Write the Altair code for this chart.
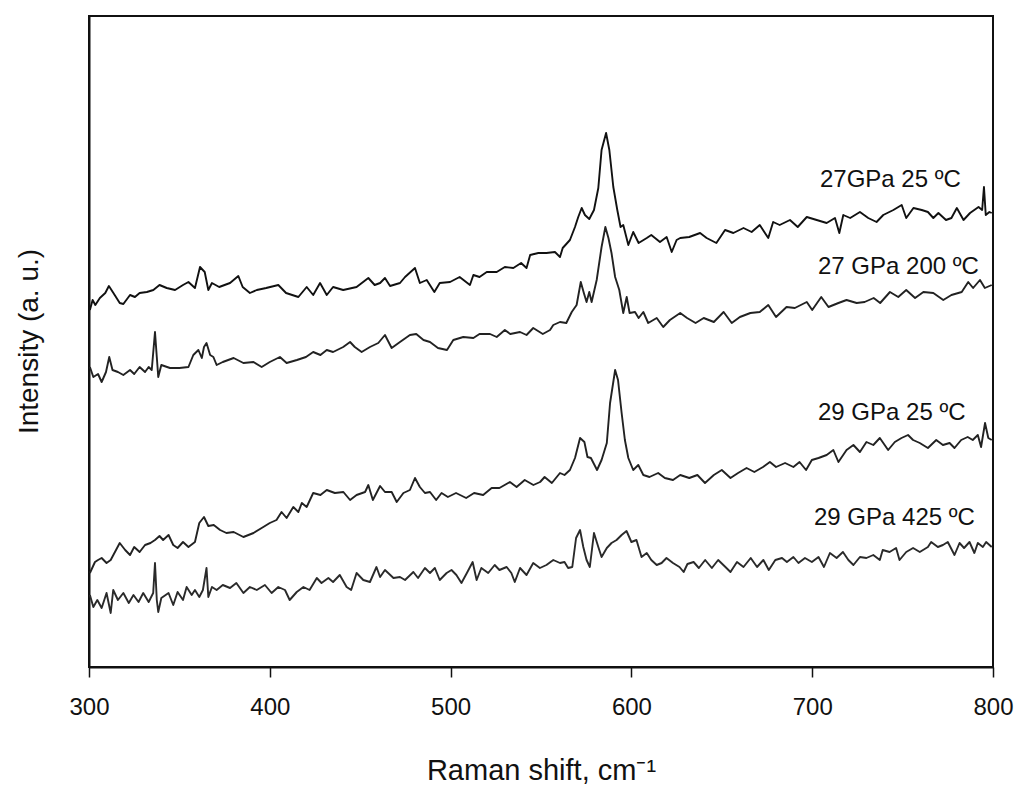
import altair as alt
import pandas as pd

labels = ["27GPa 25 ºC", "27 GPa 200 ºC", "29 GPa 25 ºC", "29 GPa 425 ºC"]

x_a = [300.5, 302, 303.5, 306, 309, 311, 313.5, 317, 319, 322.7, 325.4, 328, 332, 335.6, 339, 343, 347.6, 352, 355, 358.6,
       361.4, 364, 366, 368, 372, 378, 382.6, 385, 389, 392.8, 398, 404.7, 409, 415.8, 420.4, 424, 427.8, 431.5, 435, 440.6,
       448, 454.5, 458, 461, 463.7, 466.5, 472, 474.8, 480.3, 483, 486.8, 491, 494, 499.7, 505, 510.7, 512.6, 516, 520, 525.5,
       530, 534.7, 539, 542, 544, 548.5, 553, 557.7, 560.5, 562, 566, 568.8, 570.6, 572.5, 574.3, 576.7, 579.3, 581.7, 583.5, 586,
       587.8, 590, 592.2, 594, 595.5, 598.3, 601, 604, 608.5, 611, 615.8, 619.5, 622.3, 625, 627, 632, 638, 641.6, 647, 651.8,
       656.4, 662, 666.5, 671, 675.7, 678.4, 682, 687.7, 692, 697, 702.5, 708, 712.6, 715, 717.2, 721, 726.4, 731, 735.6, 739.3,
       744.9, 749.5, 752, 756, 760.6, 764, 767, 769.8, 774, 777, 780, 783.7, 787.3, 792, 794, 795, 796, 798, 799.3]
y_a = [357, 367, 362, 369, 374, 381, 374, 364, 363, 372, 370, 374, 375, 377, 382, 379, 377, 382, 385, 379,
       400, 395, 377, 384, 380, 384, 391, 380, 374, 377, 379, 382, 374, 370, 380, 372, 384, 372, 380, 377,
       380, 389, 382, 384, 389, 381, 384, 390, 399, 384, 387, 375, 384, 385, 390, 382, 392, 390, 395, 395,
       400, 399, 404, 399, 412, 414, 414, 415, 410, 419, 427, 440, 450, 459, 452, 448, 457, 479, 517, 534,
       517, 480, 457, 440, 442, 422, 435, 424, 429, 432, 425, 430, 415, 427, 429, 430, 434, 429, 424, 437,
       434, 439, 435, 442, 429, 445, 442, 447, 440, 450, 447, 444, 449, 434, 452, 449, 455, 449, 445, 452,
       457, 462, 449, 459, 457, 455, 449, 454, 447, 449, 459, 447, 454, 460, 457, 480, 452, 455, 454]

x_b = [300.5, 302.4, 305, 307, 309.4, 311.2, 313, 316, 319, 322.7, 325, 328, 331, 333, 334.7, 336.5, 337.5, 338.3, 340, 344.8,
       350, 355, 357.7, 360.5, 362.4, 363.6, 365, 367, 368.8, 370.6, 374, 380, 385.4, 391, 395.5, 400, 405.6, 409.3, 415, 420,
       424, 428, 431.5, 435, 440.6, 444.4, 447, 450.8, 455.4, 460, 463.7, 467.4, 472, 477.5, 481, 485, 488.6, 493, 498, 501.5,
       507, 512.6, 516, 521.8, 525.5, 530, 533, 538.4, 542, 545.7, 551, 555, 556.8, 560.5, 564, 567, 569.7, 572, 573.7, 575.2,
       576.7, 578, 580.8, 583.5, 585.6, 587.3, 589, 591, 593.3, 595.5, 597.4, 599, 602, 604, 606.6, 609.3, 614, 617.6, 621.3, 627,
       630.8, 635.5, 640, 645.6, 651, 655.5, 660, 665.8, 671, 675.7, 680, 685.8, 690.4, 697, 700, 705, 709, 714.5, 719, 724.6,
       729, 734, 737.6, 743, 747.6, 752, 756.9, 761.5, 767, 772.5, 777, 782.7, 786.3, 789, 792.8, 795.5, 799.3]
y_b = [300, 290, 293, 285, 295, 310, 297, 295, 292, 297, 293, 300, 295, 300, 297, 335, 310, 290, 302, 299,
       299, 300, 312, 317, 309, 320, 324, 312, 310, 302, 305, 309, 304, 305, 300, 305, 310, 304, 307, 310,
       315, 312, 317, 315, 320, 325, 320, 315, 320, 324, 332, 319, 325, 332, 333, 327, 325, 319, 317, 327,
       330, 329, 333, 333, 330, 337, 333, 335, 332, 339, 333, 337, 342, 345, 344, 355, 362, 385, 374, 365,
       375, 365, 387, 420, 440, 429, 414, 390, 377, 354, 370, 354, 355, 349, 355, 344, 349, 340, 347, 354,
       349, 344, 349, 345, 355, 344, 350, 354, 355, 362, 350, 360, 359, 365, 357, 370, 360, 364, 367, 364,
       365, 369, 364, 375, 370, 377, 369, 375, 374, 367, 372, 375, 385, 379, 387, 379, 382]

x_c = [300.5, 303.3, 305, 307, 309.7, 312, 317, 320, 322.7, 325, 328, 331, 334, 336.5, 339, 341, 344, 346.6, 349, 352,
       355, 358.6, 361, 363.6, 366, 369, 372.5, 376, 380, 385.4, 391, 395.5, 400, 403.7, 406.5, 409.3, 413, 415.8, 417.7, 420.4,
       424, 428, 431.5, 436, 440.7, 444.4, 448, 452.7, 454.5, 457, 461, 463.7, 467.4, 470.2, 473.9, 477.5, 480.3, 483, 485.8, 488.6,
       492, 495, 498.5, 503, 508.6, 513, 518, 522.7, 527, 532.8, 536.5, 541, 545.8, 549.5, 552, 556, 560.5, 563, 566, 568.8,
       571.6, 574, 575.7, 577.6, 581, 583.5, 586.4, 588.2, 591, 592.6, 594.6, 596.4, 598.3, 601, 603.8, 606.6, 610, 614.8, 618.5, 623,
       627, 632, 636.5, 640.7, 645.6, 650, 654.8, 659, 663.7, 668, 672.8, 676.6, 680, 685, 689.6, 693, 696.6, 699.8, 703.5, 708,
       711.7, 714.5, 719, 722.8, 726.4, 730, 733.8, 737.4, 742, 745.7, 749.4, 753, 755.8, 759.5, 764, 768.6, 772.3, 776, 778.7, 782.4,
       786, 788.8, 791.6, 793.4, 795.6, 797.4, 799.3]
y_c = [94, 105, 107, 109, 104, 107, 124, 117, 112, 120, 115, 122, 124, 127, 131, 127, 132, 122, 119, 125,
       120, 125, 144, 150, 141, 142, 137, 134, 135, 130, 134, 139, 144, 147, 155, 149, 160, 155, 164, 160,
       174, 172, 177, 174, 175, 167, 172, 175, 182, 167, 181, 175, 175, 165, 174, 177, 189, 180, 174, 175,
       167, 174, 170, 174, 169, 174, 172, 179, 179, 185, 180, 187, 182, 185, 190, 184, 194, 192, 197, 209,
       229, 225, 210, 209, 197, 207, 224, 264, 297, 287, 254, 227, 209, 197, 202, 192, 190, 194, 189, 187,
       192, 189, 192, 184, 192, 197, 189, 194, 199, 195, 200, 205, 200, 204, 200, 205, 197, 207, 209, 212,
       217, 205, 217, 222, 215, 225, 222, 229, 217, 225, 229, 232, 227, 224, 219, 227, 222, 224, 219, 227,
       230, 227, 232, 220, 244, 229, 227]

x_d = [300.5, 302.4, 304.6, 307, 309.7, 312, 313.4, 316, 319, 322, 324.6, 327.4, 330, 333, 335.5, 336.5, 337.5, 338.3, 340, 344,
       346.6, 349, 352, 354, 356.8, 358.6, 361, 363, 365, 366, 368, 370.6, 374, 378, 381.5, 385.4, 389, 392.8, 397.3, 401,
       404.7, 408.4, 411, 414.9, 418.6, 422, 426, 428.6, 432.4, 435, 438.7, 442.5, 445, 448, 451.7, 455.4, 459, 461, 463.7, 468.4,
       472, 474.8, 479.4, 482, 485.8, 488.6, 491.3, 494, 497.8, 500.5, 503.2, 506, 509, 512.2, 514.4, 517, 520.8, 524.4, 527, 531,
       533.6, 535.5, 538.4, 542, 545.7, 549.4, 553, 556.8, 560.5, 563, 565, 567.3, 569.4, 571.6, 573.4, 575.2, 577, 579.3, 581.7, 583.5,
       586.4, 589, 591.8, 594.6, 597.3, 600, 602.8, 605.6, 608.5, 611, 614, 616.7, 619.4, 623, 626.6, 628.9, 631, 634.4, 637.3, 640.8,
       644.5, 648, 652, 654.8, 658.4, 662, 666, 669.5, 673, 676, 679.6, 683.3, 686, 689.6, 692.4, 696, 699.8, 703.5, 706.5, 709.8,
       713.5, 717, 720, 722.8, 726.4, 730, 733.8, 737.4, 739, 742.8, 746.4, 748.3, 752, 755.8, 759.5, 764, 765.8, 769.5, 772.3, 775,
       778.7, 781.5, 784, 787, 789.7, 791.6, 794.4, 796.2, 799.3]
y_d = [72, 60, 67, 59, 74, 54, 77, 67, 74, 64, 72, 65, 74, 65, 74, 104, 67, 55, 69, 74,
       62, 75, 67, 80, 72, 77, 70, 77, 99, 70, 80, 77, 82, 79, 84, 74, 80, 77, 82, 74,
       80, 77, 67, 75, 80, 77, 89, 84, 89, 85, 92, 80, 77, 94, 87, 85, 100, 90, 97, 89,
       90, 87, 95, 89, 99, 94, 99, 87, 94, 97, 92, 84, 94, 105, 87, 99, 94, 102, 97, 100,
       94, 85, 99, 92, 104, 99, 102, 107, 104, 105, 99, 100, 129, 137, 120, 107, 100, 134, 120, 110,
       119, 124, 127, 132, 136, 125, 127, 110, 114, 107, 102, 104, 109, 104, 100, 95, 103, 105, 99, 107,
       99, 107, 100, 95, 105, 100, 109, 100, 107, 97, 107, 109, 105, 110, 104, 109, 105, 110, 100, 114,
       109, 115, 107, 102, 110, 109, 112, 107, 117, 115, 119, 107, 115, 119, 115, 120, 125, 120, 122, 125,
       112, 124, 119, 125, 114, 124, 120, 125, 120]

label_x = [704.3, 703.2, 703.2, 701.0]
label_y = [480, 393, 247, 142]
line_colors = ["#111111", "#222222", "#222222", "#2a2a2a"]

rows = []
for name, xs, ys in zip(labels, [x_a, x_b, x_c, x_d], [y_a, y_b, y_c, y_d]):
    for i, (xv, yv) in enumerate(zip(xs, ys)):
        rows.append({"series": name, "shift": xv, "intensity": yv, "idx": i})
df = pd.DataFrame(rows)

lab_df = pd.DataFrame({"label": labels, "lx": label_x, "ly": label_y})

FONT = "Liberation Sans"

x_enc = alt.X(
    "shift:Q",
    scale=alt.Scale(domain=[300, 800], nice=False, zero=False),
    axis=alt.Axis(
        values=[300, 400, 500, 600, 700, 800],
        title="Raman shift, cm⁻¹",
        grid=False,
        tickSize=10,
        tickWidth=1.5,
        tickColor="#111111",
        domainColor="#111111",
        domainWidth=2,
        labelFont=FONT,
        labelFontSize=24,
        labelColor="#111111",
        labelPadding=18,
        labelFlush=False,
        labelOverlap=False,
        labelBound=False,
        titleFont=FONT,
        titleFontSize=29,
        titleFontWeight="normal",
        titleColor="#111111",
        titleBaseline="alphabetic",
        titleY=112,
    ),
)
y_enc = alt.Y(
    "intensity:Q",
    scale=alt.Scale(domain=[0, 651], nice=False, zero=False),
    axis=alt.Axis(
        title="Intensity (a. u.)",
        labels=False,
        ticks=False,
        grid=False,
        domainColor="#111111",
        domainWidth=2,
        titleFont=FONT,
        titleFontSize=28,
        titleFontWeight="normal",
        titleColor="#111111",
        titleAngle=270,
        titleBaseline="alphabetic",
        titleAlign="center",
        titleX=-52,
        titleY=325,
    ),
)

lines = alt.Chart(df).mark_line(strokeWidth=1.9, strokeJoin="round").encode(
    x=x_enc,
    y=y_enc,
    color=alt.Color("series:N", scale=alt.Scale(domain=labels, range=line_colors), legend=None),
    order=alt.Order("idx:Q"),
)

texts = alt.Chart(lab_df).mark_text(
    align="left", baseline="alphabetic", fontSize=24, font=FONT, color="#111111"
).encode(
    x=alt.X("lx:Q"),
    y=alt.Y("ly:Q"),
    text="label:N",
)

chart = (
    alt.layer(lines, texts)
    .properties(
        width=904,
        height=651,
        padding={"left": 89, "top": 16, "right": 25, "bottom": 123},
        autosize=alt.AutoSizeParams(type="none"),
        background="white",
    )
    .configure_view(stroke="#111111", strokeWidth=2)
)

chart.save("out.html", embed_options={"renderer": "svg", "actions": False})
